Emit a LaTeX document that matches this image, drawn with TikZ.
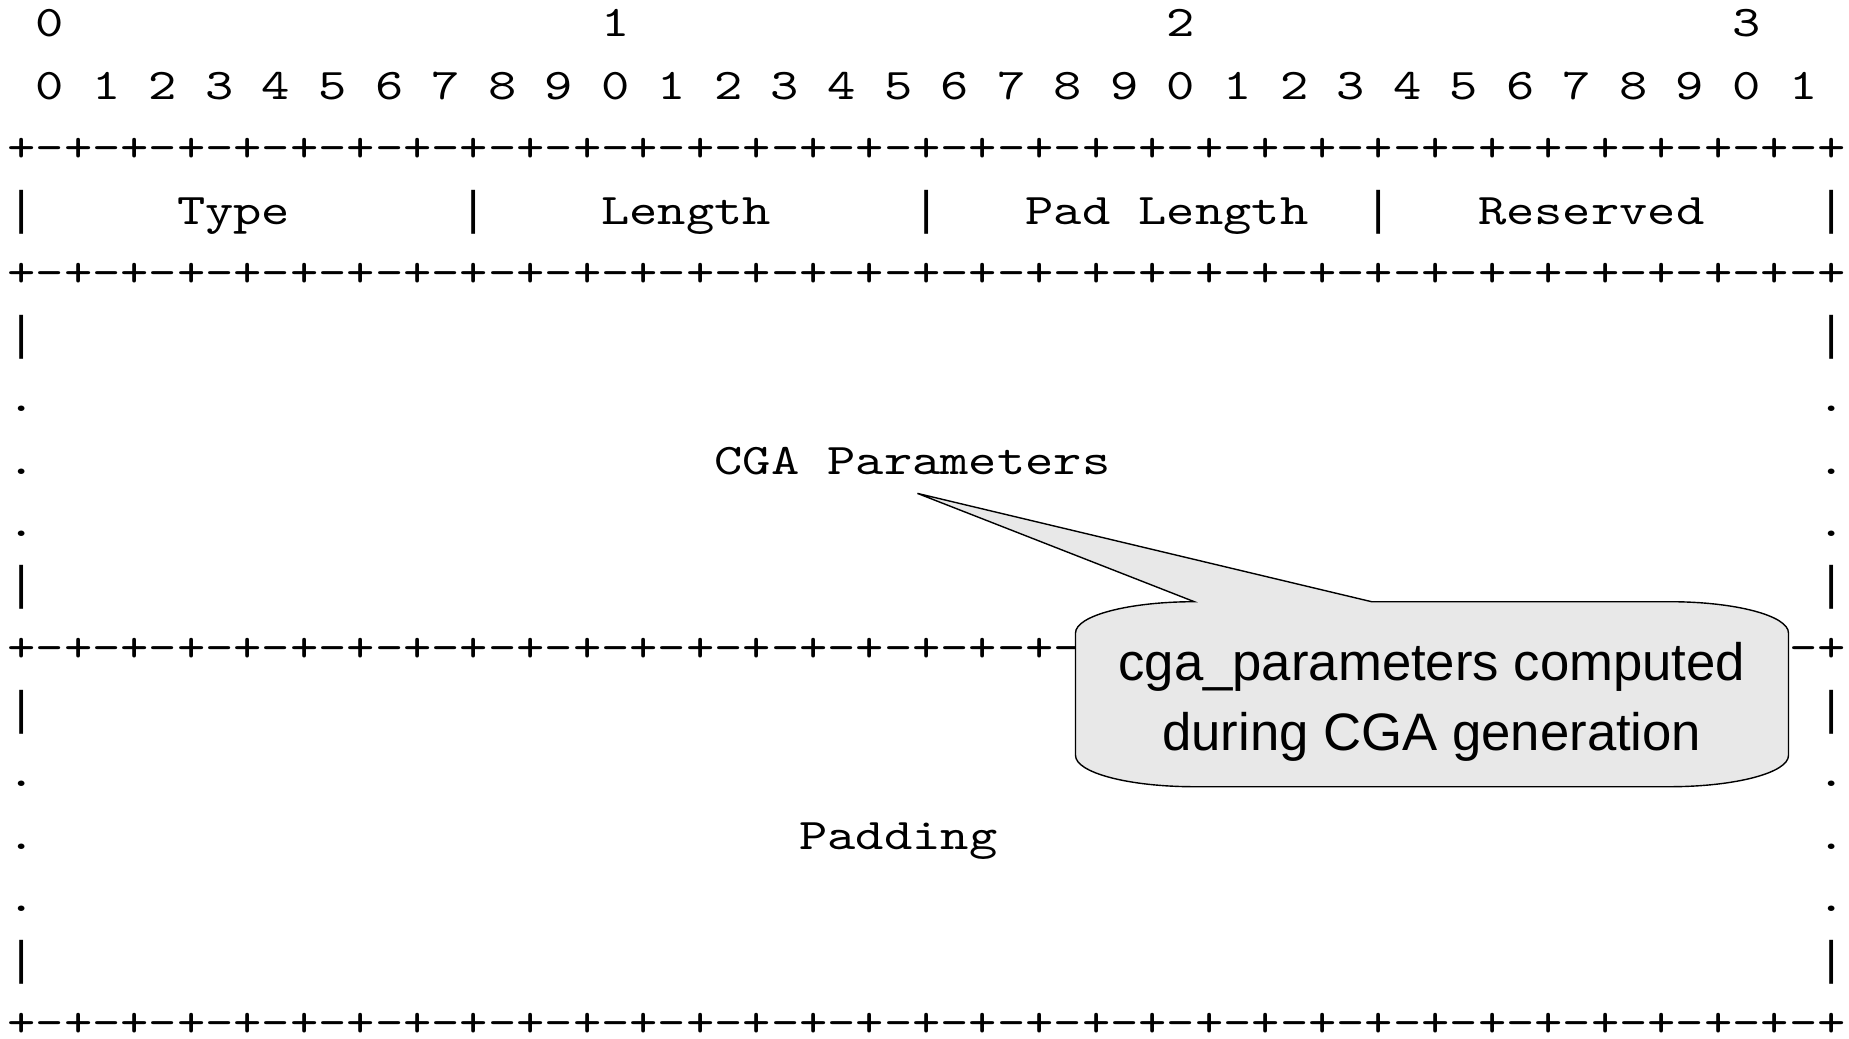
\documentclass[tikz,border=0pt]{standalone}
\usepackage{fontspec}
\newfontfamily\asciifont{lmmono10-regular.otf}[FakeStretch=1.2326]
\newfontfamily\barfont{Liberation Mono}
\newfontfamily\notefont{Liberation Sans}
\definecolor{calloutgray}{HTML}{E8E8E8}

\tikzset{
  cell/.style={font=\asciifont\fontsize{21.85pt}{30pt}\selectfont, inner sep=0pt, anchor=base west, yshift=2.35pt},
  barcell/.style={cell, font=\barfont\fontsize{23.57pt}{30pt}\selectfont},
  balloon/.style={draw=black, line width=0.7pt, fill=calloutgray},
  notetext/.style={font=\notefont\fontsize{26.35pt}{35pt}\selectfont, align=center, inner sep=0pt},
}

\begin{document}
\begin{tikzpicture}[x=14.14pt, y=31.25pt]
    \useasboundingbox (-0.75,0.664) rectangle (64.63,-15.944);
    % bit numbering
    \foreach \d in {0,...,3}
        \node[cell] (tens\d) at (20*\d+0.5, 0) {\d};
    \node[cell] (bits) at (0.5,-1) {0 1 2 3 4 5 6 7 8 9 0 1 2 3 4 5 6 7 8 9 0 1 2 3 4 5 6 7 8 9 0 1};
    % rule lines
    \foreach \r in {2,4,10,16}
        \node[cell] (rule\r) at (-0.5,-\r) {+-+-+-+-+-+-+-+-+-+-+-+-+-+-+-+-+-+-+-+-+-+-+-+-+-+-+-+-+-+-+-+-+};
    % header fields
    \foreach \c in {0,16,32,48,64}
        \node[barcell] (sep\c) at (\c-0.5,-3) {|};
    \node[cell] (type) at (5.5,-3) {Type};
    \node[cell] (length) at (20.5,-3) {Length};
    \node[cell] (padlen) at (35.5,-3) {Pad Length};
    \node[cell] (resv) at (51.5,-3) {Reserved};
    % variable length fields
    \foreach \r/\ch/\sty in {5/|/barcell,6/./cell,7/./cell,8/./cell,9/|/barcell,
                             11/|/barcell,12/./cell,13/./cell,14/./cell,15/|/barcell} {
        \node[\sty] (l\r) at (-0.5,-\r) {\ch};
        \node[\sty] (r\r) at (63.5,-\r) {\ch};
    }
    \node[cell] (cgaparams) at (24.5,-7) {CGA Parameters};
    \node[cell] (padding) at (27.5,-13) {Padding};
    % callout
    \coordinate (tip) at (31.69,-7.23);
    \path[balloon] (41.48,-8.963) -- (tip) -- (47.75,-8.963) -- (58.29,-8.963)
        .. controls (60.61,-8.963) and (62.49,-9.187) .. (62.49,-9.463)
        -- (62.49,-11.423)
        .. controls (62.49,-11.699) and (60.61,-11.923) .. (58.29,-11.923)
        -- (41.48,-11.923)
        .. controls (39.16,-11.923) and (37.28,-11.699) .. (37.28,-11.423)
        -- (37.28,-9.463)
        .. controls (37.28,-9.187) and (39.16,-8.963) .. (41.48,-8.963) -- cycle;
    \node[notetext] (note) at (49.88,-10.563) {cga\_parameters computed\\during CGA generation};
\end{tikzpicture}
\end{document}
